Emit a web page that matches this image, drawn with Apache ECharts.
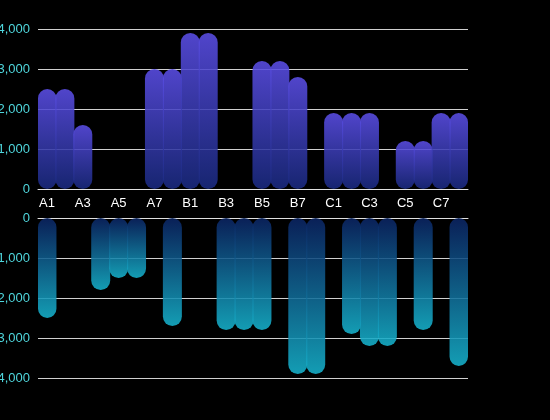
<!DOCTYPE html>
<html>
<head>
<meta charset="utf-8">
<style>
  html, body { margin: 0; padding: 0; background: #000; }
  #chart { width: 550px; height: 420px; }
</style>
<script src="https://cdn.jsdelivr.net/npm/echarts@6/dist/echarts.min.js"></script>
</head>
<body>
<div id="chart"></div>
<script>
// Categories: three groups of eight slots
const categories = [
  'A1','A2','A3','A4','A5','A6','A7','A8',
  'B1','B2','B3','B4','B5','B6','B7','B8',
  'C1','C2','C3','C4','C5','C6','C7','C8'
];

// Upper panel values (null = no bar)
const upperValues = [
  2500, 2500, 1600, null, null, null, 3000, 3000,
  3900, 3900, null, null, 3200, 3200, 2800, null,
  1900, 1900, 1900, null, 1200, 1200, 1900, 1900
];

// Lower panel values, drawn downward
const lowerValues = [
  2500, null, null, 1800, 1500, 1500, null, 2700,
  null, null, 2800, 2800, 2800, null, 3900, 3900,
  null, 2900, 3200, 3200, null, 2800, null, 3700
];

const chart = echarts.init(document.getElementById('chart'), null, { renderer: 'canvas' });

const font = 'Liberation Sans, Arial, sans-serif';
const gridLine = { lineStyle: { color: '#d0d0d0', width: 1 } };
const valueLabel = { color: '#4fd6dc', fontSize: 13, fontFamily: font, margin: 8 };

chart.setOption({
  backgroundColor: '#000',
  animation: false,
  grid: [
    { left: 38, right: 82, top: 29, height: 160, containLabel: false, outerBoundsMode: 'none' },
    { left: 38, right: 82, top: 218, height: 160, containLabel: false, outerBoundsMode: 'none' }
  ],
  xAxis: [
    {
      type: 'category', gridIndex: 0, data: categories,
      axisLine: { show: true, lineStyle: { color: '#e0e0e0' } },
      axisTick: { show: false },
      axisLabel: { color: '#fff', fontSize: 13, fontFamily: font, interval: 1, margin: 8 }
    },
    {
      type: 'category', gridIndex: 1, data: categories, position: 'top',
      axisLine: { show: true, lineStyle: { color: '#e0e0e0' } },
      axisTick: { show: false },
      axisLabel: { show: false }
    }
  ],
  yAxis: [
    {
      type: 'value', gridIndex: 0, min: 0, max: 4000, interval: 1000,
      axisLine: { show: false }, axisTick: { show: false },
      splitLine: gridLine, axisLabel: valueLabel
    },
    {
      type: 'value', gridIndex: 1, min: 0, max: 4000, interval: 1000, inverse: true,
      axisLine: { show: false }, axisTick: { show: false },
      splitLine: gridLine, axisLabel: valueLabel
    }
  ],
  series: [
    {
      type: 'bar', xAxisIndex: 0, yAxisIndex: 0, data: upperValues,
      barWidth: 19,
      itemStyle: {
        borderRadius: 9.5,
        opacity: 0.88,
        color: new echarts.graphic.LinearGradient(0, 0, 0, 1, [
          { offset: 0, color: '#5b4ee6' },
          { offset: 1, color: '#1a2a80' }
        ], false)
      }
    },
    {
      type: 'bar', xAxisIndex: 1, yAxisIndex: 1, data: lowerValues,
      barWidth: 19,
      itemStyle: {
        borderRadius: 9.5,
        opacity: 0.88,
        color: new echarts.graphic.LinearGradient(0, 0, 0, 1, [
          { offset: 0, color: '#0b2463' },
          { offset: 1, color: '#16b2cc' }
        ], false)
      }
    }
  ]
});
</script>
</body>
</html>
